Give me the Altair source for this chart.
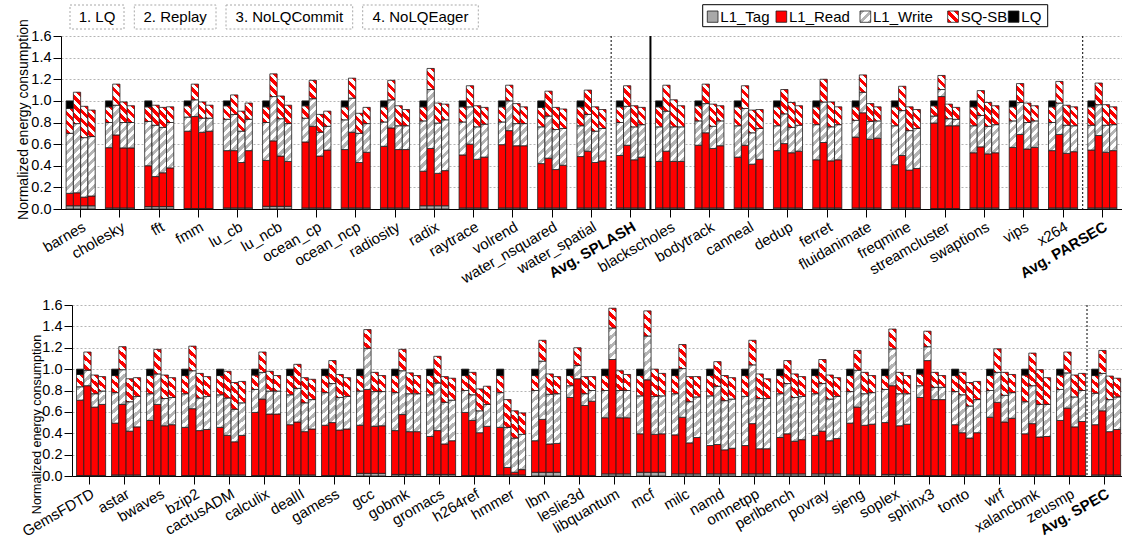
import altair as alt

# ---------------------------------------------------------------------------
# Data: normalized energy per benchmark, four configurations per benchmark.
# Each per-bar tuple lists the four configurations in order; values are the
# cumulative upper edge of each stacked component (bottom -> top).
# ---------------------------------------------------------------------------
CONFIGS = ["1. LQ", "2. Replay", "3. NoLQCommit", "4. NoLQEager"]
LQ_BASELINE = 1.0  # every benchmark is normalized to the LQ configuration

TOP_GROUPS = ["barnes", "cholesky", "fft", "fmm", "lu_cb", "lu_ncb", "ocean_cp",
              "ocean_ncp", "radiosity", "radix", "raytrace", "volrend",
              "water_nsquared", "water_spatial", "Avg. SPLASH", "blackscholes",
              "bodytrack", "canneal", "dedup", "ferret", "fluidanimate",
              "freqmine", "streamcluster", "swaptions", "vips", "x264",
              "Avg. PARSEC"]
TOP_TAG = [0.03, 0.01, 0.022, 0.005, 0.01, 0.025, 0.01, 0.01, 0.01, 0.03, 0.01,
           0.01, 0.01, 0.01, 0.01, 0.01, 0.01, 0.01, 0.01, 0.01, 0.01, 0.01,
           0.005, 0.01, 0.01, 0.01, 0.01]
TOP_READ = [(0.145, 0.15, 0.11, 0.12), (0.567, 0.685, 0.565, 0.565),
            (0.40, 0.30, 0.335, 0.38), (0.72, 0.855, 0.71, 0.72),
            (0.54, 0.54, 0.43, 0.54), (0.45, 0.63, 0.49, 0.44),
            (0.62, 0.765, 0.49, 0.545), (0.55, 0.71, 0.43, 0.525),
            (0.58, 0.75, 0.55, 0.55), (0.35, 0.56, 0.33, 0.355),
            (0.50, 0.60, 0.46, 0.48), (0.595, 0.725, 0.585, 0.585),
            (0.42, 0.47, 0.365, 0.405), (0.485, 0.535, 0.43, 0.445),
            (0.495, 0.59, 0.455, 0.48), (0.44, 0.535, 0.44, 0.44),
            (0.59, 0.705, 0.56, 0.585), (0.48, 0.59, 0.415, 0.46),
            (0.54, 0.605, 0.52, 0.535), (0.455, 0.615, 0.445, 0.455),
            (0.665, 0.89, 0.645, 0.655), (0.41, 0.495, 0.36, 0.375),
            (0.795, 1.04, 0.77, 0.77), (0.52, 0.575, 0.51, 0.52),
            (0.57, 0.69, 0.555, 0.57), (0.54, 0.69, 0.515, 0.53),
            (0.545, 0.68, 0.525, 0.54)]
TOP_WRITE = [(0.70, 0.79, 0.66, 0.67), (0.80, 0.96, 0.80, 0.80),
             (0.81, 0.775, 0.755, 0.80), (0.85, 1.01, 0.84, 0.84),
             (0.83, 0.875, 0.72, 0.83), (0.80, 1.04, 0.835, 0.79),
             (0.84, 1.02, 0.71, 0.765), (0.825, 1.025, 0.70, 0.79),
             (0.805, 1.01, 0.77, 0.77), (0.815, 1.105, 0.795, 0.825),
             (0.805, 0.945, 0.76, 0.785), (0.805, 1.00, 0.79, 0.79),
             (0.76, 0.86, 0.735, 0.745), (0.77, 0.875, 0.72, 0.745),
             (0.80, 0.95, 0.76, 0.78), (0.76, 0.905, 0.76, 0.76),
             (0.815, 0.975, 0.765, 0.815), (0.77, 0.93, 0.705, 0.745),
             (0.77, 0.88, 0.755, 0.775), (0.78, 0.99, 0.76, 0.78),
             (0.82, 1.08, 0.81, 0.815), (0.77, 0.91, 0.725, 0.745),
             (0.86, 1.105, 0.835, 0.83), (0.77, 0.865, 0.765, 0.78),
             (0.815, 0.985, 0.80, 0.815), (0.80, 0.98, 0.775, 0.77),
             (0.775, 0.965, 0.775, 0.78)]
TOP_SQSB = [(0.93, 1.08, 0.95, 0.915), (0.945, 1.155, 0.99, 0.955),
            (0.945, 0.96, 0.94, 0.945), (0.955, 1.155, 0.99, 0.96),
            (0.955, 1.055, 0.905, 0.98), (0.945, 1.25, 1.045, 0.96),
            (0.955, 1.19, 0.875, 0.905), (0.945, 1.21, 0.885, 0.94),
            (0.945, 1.19, 0.955, 0.92), (0.945, 1.30, 0.98, 0.97),
            (0.945, 1.14, 0.955, 0.94), (0.945, 1.145, 0.975, 0.945),
            (0.94, 1.09, 0.94, 0.925), (0.945, 1.10, 0.945, 0.92),
            (0.945, 1.14, 0.955, 0.94), (0.945, 1.145, 1.01, 0.955),
            (0.955, 1.155, 0.97, 0.955), (0.945, 1.14, 0.915, 0.92),
            (0.945, 1.105, 0.985, 0.955), (0.945, 1.20, 0.99, 0.945),
            (0.945, 1.24, 0.975, 0.945), (0.945, 1.135, 0.945, 0.92),
            (0.955, 1.235, 0.97, 0.94), (0.945, 1.095, 0.985, 0.955),
            (0.945, 1.16, 0.98, 0.955), (0.945, 1.18, 0.96, 0.945),
            (0.945, 1.165, 0.965, 0.945)]

BOT_GROUPS = ["GemsFDTD", "astar", "bwaves", "bzip2", "cactusADM", "calculix",
              "dealII", "gamess", "gcc", "gobmk", "gromacs", "h264ref", "hmmer",
              "lbm", "leslie3d", "libquantum", "mcf", "milc", "namd", "omnetpp",
              "perlbench", "povray", "sjeng", "soplex", "sphinx3", "tonto",
              "wrf", "xalancbmk", "zeusmp", "Avg. SPEC"]
BOT_TAG = [0.005, 0.01, 0.005, 0.005, 0.01, 0.005, 0.01, 0.005, 0.025, 0.015,
           0.015, 0.005, 0.01, 0.035, 0.005, 0.02, 0.035, 0.02, 0.02, 0.02,
           0.02, 0.02, 0.01, 0.015, 0.005, 0.01, 0.01, 0.01, 0.005, 0.01]
BOT_READ = [(0.71, 0.845, 0.645, 0.67), (0.495, 0.67, 0.42, 0.46),
            (0.52, 0.67, 0.47, 0.48), (0.455, 0.63, 0.425, 0.435),
            (0.455, 0.38, 0.32, 0.38), (0.595, 0.72, 0.58, 0.58),
            (0.48, 0.505, 0.415, 0.44), (0.475, 0.50, 0.43, 0.44),
            (0.475, 0.81, 0.465, 0.47), (0.425, 0.575, 0.415, 0.415),
            (0.37, 0.425, 0.30, 0.33), (0.595, 0.52, 0.405, 0.465),
            (0.455, 0.08, 0.035, 0.06), (0.33, 0.53, 0.30, 0.305),
            (0.735, 0.91, 0.66, 0.70), (0.545, 1.09, 0.545, 0.545),
            (0.395, 0.90, 0.39, 0.395), (0.385, 0.55, 0.31, 0.36),
            (0.285, 0.295, 0.245, 0.26), (0.285, 0.49, 0.255, 0.255),
            (0.36, 0.395, 0.325, 0.34), (0.38, 0.42, 0.33, 0.35),
            (0.495, 0.645, 0.475, 0.485), (0.50, 0.845, 0.47, 0.485),
            (0.735, 1.08, 0.715, 0.715), (0.48, 0.405, 0.355, 0.405),
            (0.55, 0.69, 0.505, 0.54), (0.395, 0.49, 0.365, 0.37),
            (0.52, 0.635, 0.46, 0.51), (0.48, 0.61, 0.415, 0.435)]
BOT_WRITE = [(0.835, 0.99, 0.77, 0.795), (0.78, 0.995, 0.695, 0.745),
             (0.77, 0.955, 0.725, 0.735), (0.77, 0.985, 0.73, 0.745),
             (0.76, 0.73, 0.625, 0.685), (0.81, 0.97, 0.795, 0.795),
             (0.76, 0.82, 0.685, 0.715), (0.78, 0.865, 0.735, 0.745),
             (0.795, 1.195, 0.79, 0.79), (0.78, 0.985, 0.77, 0.77),
             (0.76, 0.87, 0.69, 0.71), (0.80, 0.76, 0.61, 0.67),
             (0.78, 0.455, 0.355, 0.39), (0.80, 1.075, 0.765, 0.77),
             (0.845, 1.035, 0.77, 0.80), (0.80, 1.385, 0.80, 0.80),
             (0.75, 1.31, 0.745, 0.75), (0.77, 1.005, 0.695, 0.74),
             (0.75, 0.84, 0.705, 0.72), (0.745, 1.04, 0.725, 0.725),
             (0.77, 0.865, 0.735, 0.745), (0.77, 0.865, 0.72, 0.745),
             (0.79, 0.99, 0.77, 0.78), (0.81, 1.19, 0.77, 0.77),
             (0.845, 1.21, 0.83, 0.83), (0.79, 0.76, 0.655, 0.715),
             (0.80, 0.97, 0.755, 0.78), (0.695, 0.845, 0.67, 0.67),
             (0.81, 0.965, 0.74, 0.80), (0.775, 0.96, 0.715, 0.74)]
BOT_SQSB = [(0.95, 1.16, 0.945, 0.93), (0.94, 1.21, 0.91, 0.92),
            (0.94, 1.185, 0.945, 0.92), (0.94, 1.215, 0.96, 0.93),
            (0.94, 0.98, 0.875, 0.885), (0.945, 1.16, 0.98, 0.94),
            (0.94, 1.045, 0.92, 0.905), (0.94, 1.08, 0.95, 0.92),
            (0.94, 1.37, 0.97, 0.94), (0.94, 1.185, 0.965, 0.94),
            (0.94, 1.12, 0.93, 0.915), (0.94, 0.97, 0.815, 0.84),
            (0.94, 0.715, 0.61, 0.59), (0.94, 1.27, 0.955, 0.93),
            (0.94, 1.20, 0.93, 0.93), (0.94, 1.57, 0.985, 0.95),
            (0.94, 1.545, 1.00, 0.96), (0.94, 1.23, 0.93, 0.93),
            (0.94, 1.07, 0.94, 0.92), (0.94, 1.27, 0.955, 0.91),
            (0.94, 1.08, 0.955, 0.93), (0.94, 1.09, 0.945, 0.92),
            (0.94, 1.175, 0.97, 0.94), (0.94, 1.375, 0.97, 0.94),
            (0.955, 1.355, 0.97, 0.94), (0.94, 0.97, 0.875, 0.885),
            (0.94, 1.19, 0.97, 0.95), (0.945, 1.15, 0.995, 0.92),
            (0.945, 1.16, 0.945, 0.96), (0.94, 1.175, 0.935, 0.915)]

COMPONENTS = ["L1_Tag", "L1_Read", "L1_Write", "SQ-SB", "LQ"]

# ---------------------------------------------------------------------------
# Styling and layout
# ---------------------------------------------------------------------------
FONT = "Liberation Sans"
RED = "#ff0000"
TAG_GRAY = "#a9a9a9"
WRITE_GRAY = "#b5b5b5"
STRIPE_PERIOD = 9.0          # vertical repeat of the hatch, in pixels
Y_MAX = 1.6
PAD_IN, PAD_OUT = 0.26, 0.13
TOP_W, TOP_H = 1061, 173
BOT_W, BOT_H = 1050, 171


def stripes(col_a, col_b, w, h, direction):
    """Hard-stop linear gradient that draws 45 degree hatching in a w x h box."""
    span = w + h
    k = span / (w * w + h * h)
    if direction == "\\":
        x1, y1, x2, y2 = 1.0, 0.0, 1.0 - k * w, k * h
    else:
        x1, y1, x2, y2 = 0.0, 0.0, k * w, k * h
    half = STRIPE_PERIOD / 2.0
    stops = []
    j = 0
    while True:
        a = min(j * half / span, 1.0)
        b = min((j + 1) * half / span, 1.0)
        col = col_a if j % 2 == 0 else col_b
        stops.append({"offset": round(a, 4), "color": col})
        stops.append({"offset": round(b, 4), "color": col})
        if b >= 1.0:
            break
        j += 1
    return {"gradient": "linear", "x1": round(x1, 4), "y1": round(y1, 4),
            "x2": round(x2, 4), "y2": round(y2, 4), "stops": stops}


def paint(comp, w, h):
    if comp == "L1_Tag":
        return TAG_GRAY
    if comp == "L1_Read":
        return RED
    if comp == "LQ":
        return "#000000"
    if comp == "L1_Write":
        return stripes(WRITE_GRAY, "#ffffff", w, h, "/")
    return stripes(RED, "#ffffff", w, h, "\\")


def segments(groups, tag, read, write, sqsb, width, height):
    bar_w = width / len(groups) * (1 - PAD_IN) / 4
    px = height / Y_MAX
    recs = []
    for gi, g in enumerate(groups):
        for c, cfg in enumerate(CONFIGS):
            edges = [0.0, tag[gi], read[gi][c], write[gi][c], sqsb[gi][c]]
            if c == 0:
                edges.append(LQ_BASELINE)
            for k in range(len(edges) - 1):
                lo, hi = edges[k], edges[k + 1]
                if hi <= lo:
                    continue
                comp = COMPONENTS[k]
                recs.append({"group": g, "cfg": cfg, "comp": comp,
                             "lo": lo, "hi": hi,
                             "paint": paint(comp, bar_w, (hi - lo) * px)})
    return recs


bold_avg = {"condition": {"test": "indexof(datum.label, 'Avg') == 0", "value": "bold"},
            "value": "normal"}


def x_axis():
    return alt.Axis(title=None, labelAngle=330, labelAlign="right", labelBaseline="top",
                    labelFontSize=15, labelColor="black", labelPadding=2,
                    labelOverlap=False, labelFontWeight=bold_avg,
                    tickSize=8, tickColor="black", domainColor="black",
                    domainWidth=1, grid=False)


def y_axis(title_size, title_x, title_y):
    return alt.Axis(title="Normalized energy consumption", titleFontSize=title_size,
                    titleFontWeight="normal", titleColor="black",
                    titleX=title_x, titleY=title_y, titleBaseline="bottom",
                    values=[0, 0.2, 0.4, 0.6, 0.8, 1.0, 1.2, 1.4, 1.6], format=".1f",
                    labelFontSize=14.5, labelColor="black", labelPadding=2,
                    tickSize=8, tickColor="black", domainColor="black",
                    grid=True, gridColor="#b5b5b5", gridDash=[2, 2], gridWidth=1)


def panel(groups, tag, read, write, sqsb, width, height, separators, yaxis):
    recs = segments(groups, tag, read, write, sqsb, width, height)
    xscale = alt.Scale(domain=groups, paddingInner=PAD_IN, paddingOuter=PAD_OUT)
    bars = alt.Chart(alt.Data(values=recs)).mark_bar(
        stroke="#1e1e1e", strokeWidth=0.8
    ).encode(
        x=alt.X("group:N", scale=xscale, axis=x_axis()),
        xOffset=alt.XOffset("cfg:N", sort=CONFIGS,
                            scale=alt.Scale(paddingInner=0, paddingOuter=0)),
        y=alt.Y("lo:Q", scale=alt.Scale(domain=[0, Y_MAX], nice=False), axis=yaxis),
        y2="hi:Q",
        fill=alt.Fill("paint:N", scale=None),
    )
    layers = [bars]
    # rules sit in the middle of the gap before the named group
    gap_px = -PAD_OUT * width / len(groups)
    for g, solid in separators:
        data = alt.Data(values=[{"group": g}])
        if solid:
            mark = alt.Chart(data).mark_rule(color="black", strokeWidth=2, xOffset=gap_px)
        else:
            mark = alt.Chart(data).mark_rule(color="black", strokeWidth=1,
                                             strokeDash=[2, 2], xOffset=gap_px)
        layers.append(mark.encode(x=alt.X("group:N", scale=xscale, bandPosition=0)))
    return layers


def legend_layers():
    one = alt.Data(values=[{}])
    layers = []
    # configuration labels in dashed boxes
    boxes = [("1. LQ", 9, 63), ("2. Replay", 73.3, 155),
             ("3. NoLQCommit", 165, 291.7), ("4. NoLQEager", 301.7, 417.3)]
    for label, xa, xb in boxes:
        layers.append(alt.Chart(one).mark_rect(fill="white", stroke="#a8a8a8",
                                               strokeWidth=1, strokeDash=[2, 2]).encode(
            x=alt.value(xa), x2=alt.value(xb), y=alt.value(-31), y2=alt.value(-7)))
        layers.append(alt.Chart(one).mark_text(text=label, fontSize=15, align="center",
                                               baseline="middle", color="black").encode(
            x=alt.value((xa + xb) / 2), y=alt.value(-19)))
    # component legend
    layers.append(alt.Chart(one).mark_rect(fill="white", stroke="black", strokeWidth=1).encode(
        x=alt.value(641.7), x2=alt.value(986.7), y=alt.value(-31.3), y2=alt.value(-9.3)))
    items = [("L1_Tag", 646.3), ("L1_Read", 715.0), ("L1_Write", 799.0),
             ("SQ-SB", 886.7), ("LQ", 947.3)]
    for comp, sx in items:
        sym = alt.Data(values=[{"paint": paint(comp, 10.7, 11.3)}])
        layers.append(alt.Chart(sym).mark_rect(stroke="#1e1e1e", strokeWidth=0.8).encode(
            x=alt.value(sx), x2=alt.value(sx + 10.7), y=alt.value(-25), y2=alt.value(-13.7),
            fill=alt.Fill("paint:N", scale=None)))
        layers.append(alt.Chart(one).mark_text(text=comp, fontSize=15, align="left",
                                               baseline="middle", color="black").encode(
            x=alt.value(sx + 13), y=alt.value(-19.3)))
    return layers


top_layers = panel(TOP_GROUPS, TOP_TAG, TOP_READ, TOP_WRITE, TOP_SQSB, TOP_W, TOP_H,
                   [("Avg. SPLASH", False), ("blackscholes", True), ("Avg. PARSEC", False)],
                   y_axis(14, -31, 83))
top = alt.layer(*(top_layers + legend_layers())).properties(width=TOP_W, height=TOP_H)

bot_layers = panel(BOT_GROUPS, BOT_TAG, BOT_READ, BOT_WRITE, BOT_SQSB, BOT_W, BOT_H,
                   [("Avg. SPEC", False)],
                   y_axis(12.5, -28.5, 119))
bottom = alt.layer(*bot_layers).properties(width=BOT_W, height=BOT_H)

indent = alt.Chart(alt.Data(values=[{}])).mark_text(text="").encode(
    x=alt.value(0), y=alt.value(0)).properties(width=11, height=BOT_H)

chart = alt.vconcat(
    top,
    alt.hconcat(indent, bottom, spacing=0, bounds="flush"),
    spacing=96, bounds="flush",
).properties(
    padding={"left": 15, "top": 4, "right": 0, "bottom": 0}
).configure(
    font=FONT
).configure_view(
    stroke=None
)

chart.save("out.html", embed_options={"renderer": "svg", "actions": False})
